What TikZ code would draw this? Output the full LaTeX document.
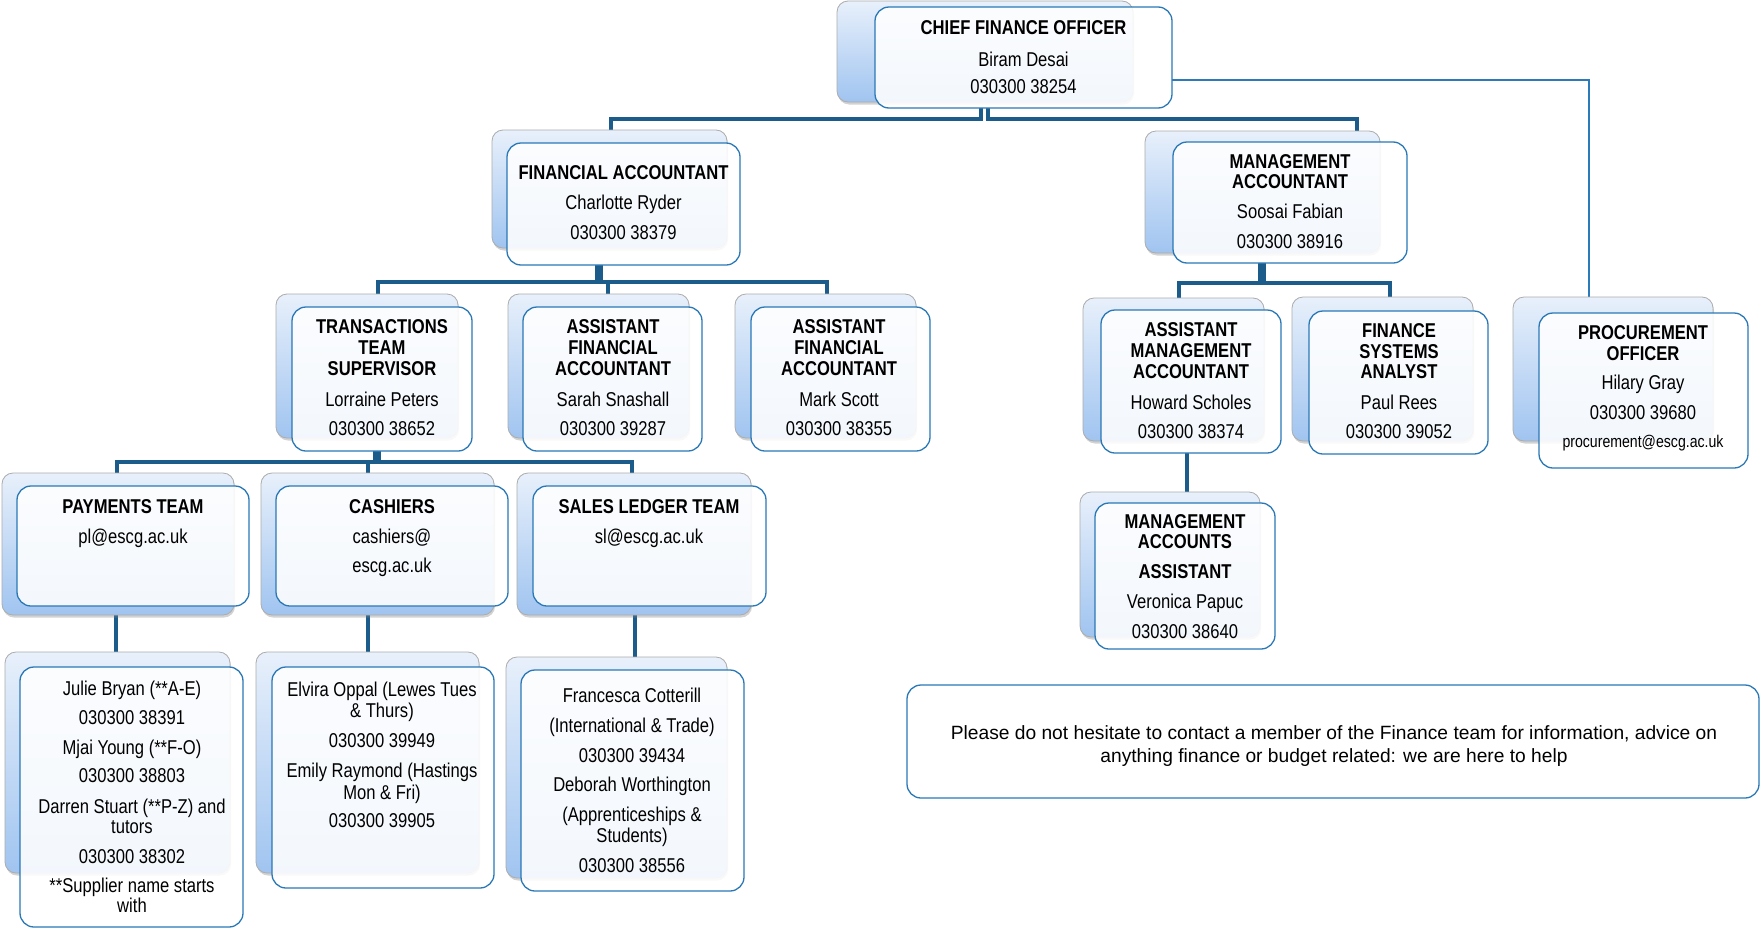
\documentclass[tikz,border=0pt]{standalone}
\usepackage{fontspec}
\setmainfont{Liberation Sans}[FakeStretch=0.83]
\newfontfamily\plainfont{Liberation Sans}
\usetikzlibrary{shadows,backgrounds}
\definecolor{connblue}{RGB}{27,92,138}
\definecolor{frontline}{RGB}{42,120,182}
\definecolor{backtop}{RGB}{232,240,251}
\definecolor{backbot}{RGB}{160,196,240}
\definecolor{backline}{RGB}{172,172,172}
\definecolor{projline}{RGB}{43,123,186}
\newcommand{\orgbox}[9]{%
  \node[backbox, minimum width={(#4)-(#2)}, minimum height={(#5)-(#3)}] (#1B) at ({((#2)+(#4))/2},{((#3)+(#5))/2}) {};
  \node[frontbox, minimum width={(#8)-(#6)}, minimum height={(#9)-(#7)}] (#1F) at ({((#6)+(#8))/2},{((#7)+(#9))/2}) {};
}
\begin{document}
\begin{tikzpicture}[x=1pt,y=-1pt,
  backbox/.style={draw=backline, line width=0.8pt, rounded corners=11pt, top color=backtop, bottom color=backbot, inner sep=0pt, outer sep=0pt,
    drop shadow={shadow xshift=1pt,shadow yshift=-2.5pt,opacity=0.35}},
  frontbox/.style={draw=frontline, line width=1.3pt, rounded corners=14pt, fill=white, fill opacity=0.88, draw opacity=1, inner sep=0pt, outer sep=0pt},
  txt/.style={anchor=north, align=center, inner sep=0pt, font=\fontsize{20}{21}\selectfont},
  conn/.style={draw=connblue, line width=3.2pt},
  thinconn/.style={draw=projline, line width=1.3pt}
]
\useasboundingbox (0,0) rectangle (1761,929);

\orgbox{cfo}{837}{1}{1133}{102}{875}{7}{1172}{108}
\orgbox{fa}{492}{130}{727}{248}{507}{143}{740}{265}
\orgbox{ma}{1145}{131}{1380}{253}{1173}{142}{1407}{263}
\orgbox{tts}{276}{294}{458}{438}{292}{307}{472}{451}
\orgbox{afaa}{508}{294}{689}{438}{523}{307}{702}{451}
\orgbox{afab}{735}{294}{916}{438}{751}{307}{930}{451}
\orgbox{pay}{2}{473}{234}{615}{17}{486}{249}{606}
\orgbox{cash}{261}{473}{494}{615}{276}{486}{508}{606}
\orgbox{sales}{517}{473}{751}{615}{533}{486}{766}{606}
\orgbox{julie}{5}{652}{230}{873}{20}{667}{243}{927}
\orgbox{elvira}{256}{652}{479}{873}{272}{667}{494}{888}
\orgbox{fran}{506}{657}{727}{878}{521}{670}{744}{891}
\orgbox{ama}{1083}{298}{1264}{441}{1101}{310}{1281}{453}
\orgbox{fsa}{1292}{297}{1473}{441}{1309}{311}{1488}{454}
\orgbox{proc}{1513}{297}{1713}{441}{1539}{313}{1748}{468}
\orgbox{maa}{1080}{492}{1260}{637}{1095}{503}{1275}{649}

\node[draw=frontline, line width=1.3pt, rounded corners=14pt, minimum width=852, minimum height=113, inner sep=0pt] (note) at (1333,741.5) {};

\node[txt] (cfoT) at (1023.5,20.8) {\textbf{CHIEF FINANCE OFFICER}\\[10.7pt]Biram Desai\\[6.3pt]030300 38254};
\node[txt] (faT) at (623.5,165.5) {\textbf{FINANCIAL ACCOUNTANT}\\[9pt]Charlotte Ryder\\[9pt]030300 38379};
\node[txt] (maT) at (1290,154.5) {\textbf{MANAGEMENT}\\[-1pt]\textbf{ACCOUNTANT}\\[9pt]Soosai Fabian\\[9pt]030300 38916};
\node[txt] (ttsT) at (382,319.5) {\textbf{TRANSACTIONS}\\[0pt]\textbf{TEAM}\\[-0.5pt]\textbf{SUPERVISOR}\\[10pt]Lorraine Peters\\[8pt]030300 38652};
\node[txt] (afaaT) at (613,319.5) {\textbf{ASSISTANT}\\[0pt]\textbf{FINANCIAL}\\[-0.5pt]\textbf{ACCOUNTANT}\\[10pt]Sarah Snashall\\[8pt]030300 39287};
\node[txt] (afabT) at (839,319.5) {\textbf{ASSISTANT}\\[0pt]\textbf{FINANCIAL}\\[-0.5pt]\textbf{ACCOUNTANT}\\[10pt]Mark Scott\\[8pt]030300 38355};
\node[txt] (payT) at (133,499.5) {\textbf{PAYMENTS TEAM}\\[8.5pt]pl@escg.ac.uk};
\node[txt] (cashT) at (392,499.5) {\textbf{CASHIERS}\\[9pt]cashiers@\\[8pt]escg.ac.uk};
\node[txt] (salesT) at (649,499.5) {\textbf{SALES LEDGER TEAM}\\[9pt]sl@escg.ac.uk};
\node[txt] (julieT) at (132,680.5) {Julie Bryan (**A-E)\\[8pt]030300 38391\\[9pt]Mjai Young (**F-O)\\[7pt]030300 38803\\[10pt]Darren Stuart (**P-Z) and\\[-1pt]tutors\\[9pt]030300 38302\\[8pt]**Supplier name starts\\[-1pt]with};
\node[txt] (elviraT) at (382,681.5) {Elvira Oppal (Lewes Tues\\[0pt]\& Thurs)\\[9pt]030300 39949\\[9pt]Emily Raymond (Hastings\\[1pt]Mon \& Fri)\\[7pt]030300 39905};
\node[txt] (franT) at (632,687.5) {Francesca Cotterill\\[9pt](International \& Trade)\\[9pt]030300 39434\\[8pt]Deborah Worthington\\[9pt](Apprenticeships \&\\[0pt]Students)\\[9pt]030300 38556};
\node[txt] (amaT) at (1191,322.5) {\textbf{ASSISTANT}\\[0pt]\textbf{MANAGEMENT}\\[0pt]\textbf{ACCOUNTANT}\\[10pt]Howard Scholes\\[8pt]030300 38374};
\node[txt] (fsaT) at (1399,323.5) {\textbf{FINANCE}\\[0pt]\textbf{SYSTEMS}\\[-1pt]\textbf{ANALYST}\\[10pt]Paul Rees\\[8pt]030300 39052};
\node[txt] (procT) at (1643,325.5) {\textbf{PROCUREMENT}\\[0pt]\textbf{OFFICER}\\[8pt]Hilary Gray\\[9pt]030300 39680\\[7pt]{\fontsize{17}{21}\selectfont procurement@escg.ac.uk}};
\node[txt] (maaT) at (1185,514.5) {\textbf{MANAGEMENT}\\[-1pt]\textbf{ACCOUNTS}\\[9pt]\textbf{ASSISTANT}\\[9pt]Veronica Papuc\\[9pt]030300 38640};
\node[txt, font=\plainfont\fontsize{19.2}{23}\selectfont] (noteT) at (1334,725) {Please do not hesitate to contact a member of the Finance team for information, advice on\\anything finance or budget related: we are here to help};

\begin{scope}[on background layer]
\fill[white] (0,0) rectangle (1761,929);
% CFO
\draw[conn] ([xshift=-42.5pt]cfoF.south) -- ++(0,11) -| ([xshift=1.5pt]faB.north);
\draw[conn] ([xshift=-35.5pt]cfoF.south) -- ++(0,11) -| ([xshift=94.5pt]maB.north);
\draw[thinconn] ([yshift=-22.5pt]cfoF.east) -| ([xshift=-24pt,yshift=-8pt]procB.north);
% FA
\draw[conn] ([xshift=-26.5pt]faF.south) -- ++(0,17) -| ([xshift=11pt]ttsB.north);
\draw[conn] ([xshift=-24.5pt]faF.south) -- ++(0,17) -| ([xshift=9.5pt]afaaB.north);
\draw[conn] ([xshift=-22.5pt]faF.south) -- ++(0,17) -| ([xshift=1.5pt]afabB.north);
% TTS
\draw[conn] ([xshift=-7pt]ttsF.south) -- ++(0,11) -| ([xshift=-1pt]payB.north);
\draw[conn] ([xshift=-5pt]ttsF.south) -- ++(0,11) -| ([xshift=-9.5pt]cashB.north);
\draw[conn] ([xshift=-3pt]ttsF.south) -- ++(0,11) -| ([xshift=-2pt]salesB.north);
% row 3 to row 4
\draw[conn] ([xshift=-2pt]payB.south) coordinate (payOut) -- (payOut |- julieB.north);
\draw[conn] ([xshift=-9.5pt]cashB.south) coordinate (cashOut) -- (cashOut |- elviraB.north);
\draw[conn] ([xshift=1pt]salesB.south) coordinate (salesOut) -- (salesOut |- franB.north);
% MA
\draw[conn] ([xshift=-30pt]maF.south) -- ++(0,20) -| ([xshift=5.5pt]amaB.north);
\draw[conn] ([xshift=-26pt]maF.south) -- ++(0,20) -| ([xshift=7.5pt]fsaB.north);
\draw[conn] ([xshift=-4pt]amaF.south) coordinate (amaOut) -- (amaOut |- maaB.north);
\end{scope}
\end{tikzpicture}
\end{document}
